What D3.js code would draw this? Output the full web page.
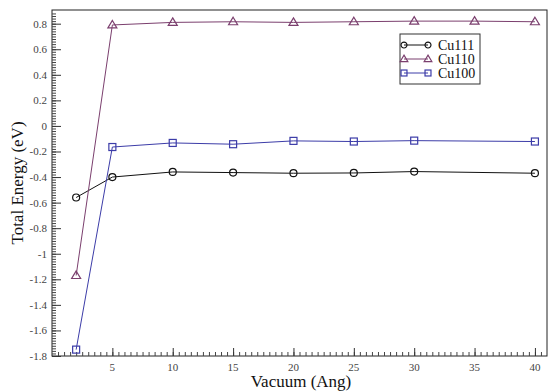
<!DOCTYPE html>
<html>
<head>
<meta charset="utf-8">
<script src="https://cdn.jsdelivr.net/npm/d3@7"></script>
<style>
  body { margin: 0; background: #fff; }
</style>
</head>
<body>
<div id="chart"></div>
<script>
// data
const xAll = [2, 5, 10, 15, 20, 25, 30, 35, 40];
const xShort = [2, 5, 10, 15, 20, 25, 30, 40];
const cu111 = [-0.56, -0.40, -0.36, -0.365, -0.37, -0.368, -0.357, -0.37];
const cu110 = [-1.17, 0.79, 0.81, 0.815, 0.81, 0.815, 0.82, 0.82, 0.815];
const cu100 = [-1.75, -0.165, -0.133, -0.143, -0.117, -0.122, -0.115, -0.122];
const xTicks = [5, 10, 15, 20, 25, 30, 35, 40];
const yTicks = [0.8, 0.6, 0.4, 0.2, 0, -0.2, -0.4, -0.6, -0.8, -1, -1.2, -1.4, -1.6, -1.8];

const FONT = "'Liberation Serif', 'DejaVu Serif', serif";
const W = 548, H = 392;
const margin = { top: 10, right: 1, bottom: 36, left: 52 };
const width = W - margin.left - margin.right;
const height = H - margin.top - margin.bottom;

const svg = d3.select("#chart").append("svg")
    .attr("width", W)
    .attr("height", H)
    .style("font-family", FONT);

const g = svg.append("g")
    .attr("transform", `translate(${margin.left},${margin.top})`);

const x = d3.scaleLinear().domain([0, 41]).range([0, width]);
const y = d3.scaleLinear().domain([-1.8, 0.907]).range([height, 0]);

// frame
g.append("rect")
    .attr("width", width).attr("height", height)
    .attr("fill", "none").attr("stroke", "#222").attr("stroke-width", 1);

// minor ticks
const xMinor = d3.range(0.5, 41, 0.5);
const yMinor = d3.range(-1.78, 0.9, 0.02);
g.append("g")
    .attr("transform", `translate(0,${height})`)
    .call(d3.axisTop(x).tickValues(xMinor).tickSize(4).tickFormat(""))
    .call(a => a.select(".domain").remove())
    .selectAll("line").attr("stroke", "#444");
g.append("g")
    .call(d3.axisRight(y).tickValues(yMinor).tickSize(4).tickFormat(""))
    .call(a => a.select(".domain").remove())
    .selectAll("line").attr("stroke", "#444");

// major ticks
g.append("g")
    .attr("transform", `translate(0,${height})`)
    .call(d3.axisTop(x).tickValues(xTicks).tickSize(8).tickFormat(""))
    .call(a => a.select(".domain").remove())
    .selectAll("line").attr("stroke", "#333");
g.append("g")
    .call(d3.axisRight(y).tickValues(yTicks).tickSize(9).tickFormat(""))
    .call(a => a.select(".domain").remove())
    .selectAll("line").attr("stroke", "#333");

// tick labels
g.selectAll(".xlab").data(xTicks).enter().append("text")
    .attr("x", d => x(d)).attr("y", height + 15)
    .attr("text-anchor", "middle")
    .attr("font-family", FONT)
    .attr("font-size", 11).attr("fill", "#444")
    .text(d => d);
g.selectAll(".ylab").data(yTicks).enter().append("text")
    .attr("x", -5).attr("y", d => y(d) + 4)
    .attr("text-anchor", "end")
    .attr("font-family", FONT)
    .attr("font-size", 11).attr("fill", "#444")
    .text(d => String(d));

// axis titles
svg.append("text")
    .attr("x", 301).attr("y", 387)
    .attr("text-anchor", "middle").attr("font-size", 17).attr("fill", "#111")
    .attr("font-family", FONT)
    .text("Vacuum (Ang)");
svg.append("text")
    .attr("transform", `translate(23,${margin.top + height / 2}) rotate(-90)`)
    .attr("text-anchor", "middle").attr("font-size", 17).attr("fill", "#111")
    .attr("font-family", FONT)
    .text("Total Energy (eV)");

const series = [
    { name: "Cu111", xs: xShort, ys: cu111, color: "#111", shape: "circle" },
    { name: "Cu110", xs: xAll, ys: cu110, color: "#7b3f6e", shape: "triangle" },
    { name: "Cu100", xs: xShort, ys: cu100, color: "#3c3ca8", shape: "square" }
];

const line = d3.line().x(d => x(d[0])).y(d => y(d[1]));

function drawMarker(sel, shape, color, k) {
    if (shape === "circle") {
        sel.append("circle").attr("r", 3.5 * k);
    } else if (shape === "triangle") {
        sel.append("path").attr("d", `M0,${-4.5 * k}L${4.5 * k},${3 * k}L${-4.5 * k},${3 * k}Z`);
    } else {
        sel.append("rect").attr("x", -3.5 * k).attr("y", -3.5 * k)
            .attr("width", 7 * k).attr("height", 7 * k);
    }
    sel.selectAll("circle,path,rect")
        .attr("fill", "none").attr("stroke", color).attr("stroke-width", 1.2);
}

series.forEach(s => {
    const pts = s.xs.map((v, i) => [v, s.ys[i]]);
    g.append("path")
        .datum(pts)
        .attr("d", line)
        .attr("fill", "none")
        .attr("stroke", s.color)
        .attr("stroke-width", 1);
    g.selectAll(null).data(pts).enter().append("g")
        .attr("transform", d => `translate(${x(d[0])},${y(d[1])})`)
        .each(function () { drawMarker(d3.select(this), s.shape, s.color, 1); });
});

// legend
const legend = svg.append("g").attr("transform", "translate(400,34)");
legend.append("rect")
    .attr("width", 80).attr("height", 50)
    .attr("fill", "#fff").attr("stroke", "#333").attr("stroke-width", 1);
series.forEach((s, i) => {
    const ly = 11 + i * 14;
    legend.append("line")
        .attr("x1", 4).attr("x2", 28).attr("y1", ly).attr("y2", ly)
        .attr("stroke", s.color).attr("stroke-width", 1);
    [4, 28].forEach(px => {
        const m = legend.append("g").attr("transform", `translate(${px},${ly})`);
        drawMarker(m, s.shape, s.color, 0.85);
    });
    legend.append("text")
        .attr("x", 38).attr("y", ly + 4.5)
        .attr("font-family", FONT)
        .attr("font-size", 14).attr("fill", "#111")
        .text(s.name);
});
</script>
</body>
</html>
